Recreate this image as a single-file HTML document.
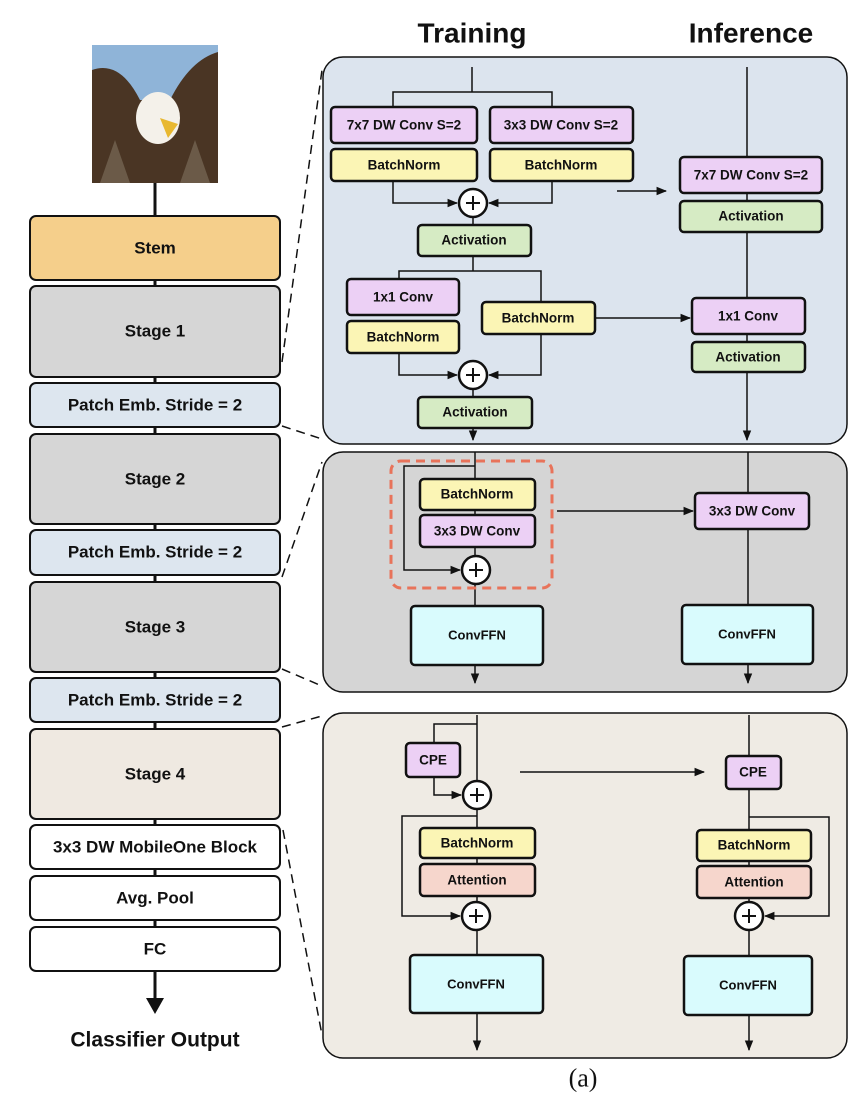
<!DOCTYPE html>
<html><head><meta charset="utf-8"><style>
html,body{margin:0;padding:0;background:#fff;}
svg{display:block;}
text{font-family:"Liberation Sans",Arial,sans-serif;font-weight:bold;text-anchor:middle;dominant-baseline:central;fill:#111;}
</style></head><body>
<svg width="852" height="1106" viewBox="0 0 852 1106" xmlns="http://www.w3.org/2000/svg">
<defs>
<marker id="a" viewBox="0 0 10 10" refX="9" refY="5" markerWidth="7" markerHeight="7" orient="auto-start-reverse"><path d="M0,1 L10,5 L0,9 z" fill="#111"/></marker>
</defs>
<!-- titles -->
<text x="472" y="33" style="font-size:28px">Training</text>
<text x="751" y="33" style="font-size:28px">Inference</text>
<text x="583" y="1078" style="font-family:'Liberation Serif',serif;font-weight:normal;font-size:26px">(a)</text>

<!-- left column -->
<rect x="92" y="45" width="126" height="138" fill="#8fb4d8"/>
<path d="M92,70 Q120,60 140,100 L170,100 Q190,60 218,52 L218,183 L92,183 z" fill="#4a3524"/>
<path d="M100,183 L115,140 L130,183 z M180,183 L195,140 L210,183 z" fill="#6b5a48"/>
<ellipse cx="158" cy="118" rx="22" ry="26" fill="#f4f1ea"/>
<path d="M160,118 L178,124 L168,138 z" fill="#e8b830"/>
<line x1="155" y1="183" x2="155" y2="1000" stroke="#111" stroke-width="3"/>
<path d="M146,998 L164,998 L155,1014 z" fill="#111"/>
<g stroke="#111" stroke-width="2">
<rect x="30" y="216" width="250" height="64" rx="6" fill="#f5cf8b"/>
<rect x="30" y="286" width="250" height="91" rx="6" fill="#d6d6d6"/>
<rect x="30" y="383" width="250" height="44" rx="6" fill="#dde6ef"/>
<rect x="30" y="434" width="250" height="90" rx="6" fill="#d6d6d6"/>
<rect x="30" y="530" width="250" height="45" rx="6" fill="#dde6ef"/>
<rect x="30" y="582" width="250" height="90" rx="6" fill="#d6d6d6"/>
<rect x="30" y="678" width="250" height="44" rx="6" fill="#dde6ef"/>
<rect x="30" y="729" width="250" height="90" rx="6" fill="#efe9e1"/>
<rect x="30" y="825" width="250" height="44" rx="6" fill="#fff"/>
<rect x="30" y="876" width="250" height="44" rx="6" fill="#fff"/>
<rect x="30" y="927" width="250" height="44" rx="6" fill="#fff"/>
</g>
<g style="font-size:17px">
<text x="155" y="248">Stem</text>
<text x="155" y="331">Stage 1</text>
<text x="155" y="405">Patch Emb. Stride = 2</text>
<text x="155" y="479">Stage 2</text>
<text x="155" y="552">Patch Emb. Stride = 2</text>
<text x="155" y="627">Stage 3</text>
<text x="155" y="700">Patch Emb. Stride = 2</text>
<text x="155" y="774">Stage 4</text>
<text x="155" y="847">3x3 DW MobileOne Block</text>
<text x="155" y="898">Avg. Pool</text>
<text x="155" y="949">FC</text>
</g>
<text x="155" y="1040" style="font-size:21px">Classifier Output</text>

<!-- dashed connectors -->
<g stroke="#111" stroke-width="1.5" stroke-dasharray="9,6">
<line x1="282" y1="362" x2="322" y2="70"/>
<line x1="282" y1="426" x2="322" y2="439"/>
<line x1="282" y1="577" x2="322" y2="462"/>
<line x1="282" y1="669" x2="322" y2="686"/>
<line x1="282" y1="727" x2="322" y2="716"/>
<line x1="283" y1="830" x2="322" y2="1035"/>
</g>

<!-- panels -->
<g stroke="#111" stroke-width="1.5">
<rect x="323" y="57" width="524" height="387" rx="20" fill="#dce4ee"/>
<rect x="323" y="452" width="524" height="240" rx="20" fill="#d5d5d5"/>
<rect x="323" y="713" width="524" height="345" rx="20" fill="#efebe4"/>
</g>

<!-- lines panel 1 -->
<g stroke="#111" stroke-width="1.5" fill="none">
<path d="M472,67 V92 M393,107 V92 H552 V107"/>
<path d="M393,181 V203 H457" marker-end="url(#a)"/>
<path d="M552,181 V203 H489" marker-end="url(#a)"/>
<path d="M473,217 V225 M473,256 V271 M399,279 V271 H541 V302 M541,334 V375 H489" marker-end="url(#a)"/>
<path d="M399,353 V375 H457" marker-end="url(#a)"/>
<path d="M473,389 V397 M473,428 V440" marker-end="url(#a)"/>
<path d="M617,191 H666" marker-end="url(#a)"/>
<path d="M595,318 H690" marker-end="url(#a)"/>
<path d="M747,67 V440" marker-end="url(#a)"/>
<!-- panel 2 -->
<path d="M475,452 V606 M475,665 V683" marker-end="url(#a)"/>
<path d="M475,466 H404 V570 H460" marker-end="url(#a)"/>
<path d="M557,511 H693" marker-end="url(#a)"/>
<path d="M748,452 V683" marker-end="url(#a)"/>
<!-- panel 3 -->
<path d="M477,715 V1050" marker-end="url(#a)"/>
<path d="M477,724 H434 V743 M434,777 V795 H461" marker-end="url(#a)"/>
<path d="M477,816 H402 V916 H460" marker-end="url(#a)"/>
<path d="M520,772 H704" marker-end="url(#a)"/>
<path d="M749,715 V1050" marker-end="url(#a)"/>
<path d="M749,817 H829 V916 H765" marker-end="url(#a)"/>
</g>
<rect x="391" y="461" width="161" height="127" rx="10" fill="none" stroke="#e8735a" stroke-width="3" stroke-dasharray="9,6"/>

<!-- boxes -->
<g stroke="#111" stroke-width="2.5">
<rect x="331" y="107" width="146" height="36" rx="4" fill="#ecd0f5"/>
<rect x="490" y="107" width="143" height="36" rx="4" fill="#ecd0f5"/>
<rect x="331" y="149" width="146" height="32" rx="4" fill="#fbf5b5"/>
<rect x="490" y="149" width="143" height="32" rx="4" fill="#fbf5b5"/>
<rect x="418" y="225" width="113" height="31" rx="4" fill="#d6ebc4"/>
<rect x="347" y="279" width="112" height="36" rx="4" fill="#ecd0f5"/>
<rect x="347" y="321" width="112" height="32" rx="4" fill="#fbf5b5"/>
<rect x="482" y="302" width="113" height="32" rx="4" fill="#fbf5b5"/>
<rect x="418" y="397" width="114" height="31" rx="4" fill="#d6ebc4"/>
<rect x="680" y="157" width="142" height="36" rx="4" fill="#ecd0f5"/>
<rect x="680" y="201" width="142" height="31" rx="4" fill="#d6ebc4"/>
<rect x="692" y="298" width="113" height="36" rx="4" fill="#ecd0f5"/>
<rect x="692" y="342" width="113" height="30" rx="4" fill="#d6ebc4"/>

<rect x="420" y="479" width="115" height="31" rx="4" fill="#fbf5b5"/>
<rect x="420" y="515" width="115" height="32" rx="4" fill="#ecd0f5"/>
<rect x="411" y="606" width="132" height="59" rx="4" fill="#d9fbfd"/>
<rect x="695" y="493" width="114" height="36" rx="4" fill="#ecd0f5"/>
<rect x="682" y="605" width="131" height="59" rx="4" fill="#d9fbfd"/>

<rect x="406" y="743" width="54" height="34" rx="4" fill="#ecd0f5"/>
<rect x="420" y="828" width="115" height="30" rx="4" fill="#fbf5b5"/>
<rect x="420" y="864" width="115" height="32" rx="4" fill="#f6d6cc"/>
<rect x="410" y="955" width="133" height="58" rx="4" fill="#d9fbfd"/>
<rect x="726" y="756" width="55" height="33" rx="4" fill="#ecd0f5"/>
<rect x="697" y="830" width="114" height="31" rx="4" fill="#fbf5b5"/>
<rect x="697" y="866" width="114" height="32" rx="4" fill="#f6d6cc"/>
<rect x="684" y="956" width="128" height="59" rx="4" fill="#d9fbfd"/>
</g>
<!-- plus circles -->
<g stroke="#111" stroke-width="2.5" fill="#fff">
<circle cx="473" cy="203" r="14"/><circle cx="473" cy="375" r="14"/>
<circle cx="476" cy="570" r="14"/><circle cx="477" cy="795" r="14"/>
<circle cx="476" cy="916" r="14"/><circle cx="749" cy="916" r="14"/>
</g>
<g stroke="#111" stroke-width="2">
<path d="M466,203 H480 M473,196 V210"/><path d="M466,375 H480 M473,368 V382"/>
<path d="M469,570 H483 M476,563 V577"/><path d="M470,795 H484 M477,788 V802"/>
<path d="M469,916 H483 M476,909 V923"/><path d="M742,916 H756 M749,909 V923"/>
</g>
<!-- labels -->
<g style="font-size:13.5px">
<text x="404" y="125">7x7 DW Conv S=2</text>
<text x="561" y="125">3x3 DW Conv S=2</text>
<text x="404" y="165">BatchNorm</text>
<text x="561" y="165">BatchNorm</text>
<text x="474" y="240">Activation</text>
<text x="403" y="297">1x1 Conv</text>
<text x="403" y="337">BatchNorm</text>
<text x="538" y="318">BatchNorm</text>
<text x="475" y="412">Activation</text>
<text x="751" y="175">7x7 DW Conv S=2</text>
<text x="751" y="216">Activation</text>
<text x="748" y="316">1x1 Conv</text>
<text x="748" y="357">Activation</text>
<text x="477" y="494">BatchNorm</text>
<text x="477" y="531">3x3 DW Conv</text>
<text x="752" y="511">3x3 DW Conv</text>
<text x="433" y="760">CPE</text>
<text x="753" y="772">CPE</text>
<text x="477" y="843">BatchNorm</text>
<text x="477" y="880">Attention</text>
<text x="754" y="845">BatchNorm</text>
<text x="754" y="882">Attention</text>
</g>
<g style="font-size:13px">
<text x="477" y="635">ConvFFN</text>
<text x="747" y="634">ConvFFN</text>
<text x="476" y="984">ConvFFN</text>
<text x="748" y="985">ConvFFN</text>
</g>
</svg>
</body></html>
